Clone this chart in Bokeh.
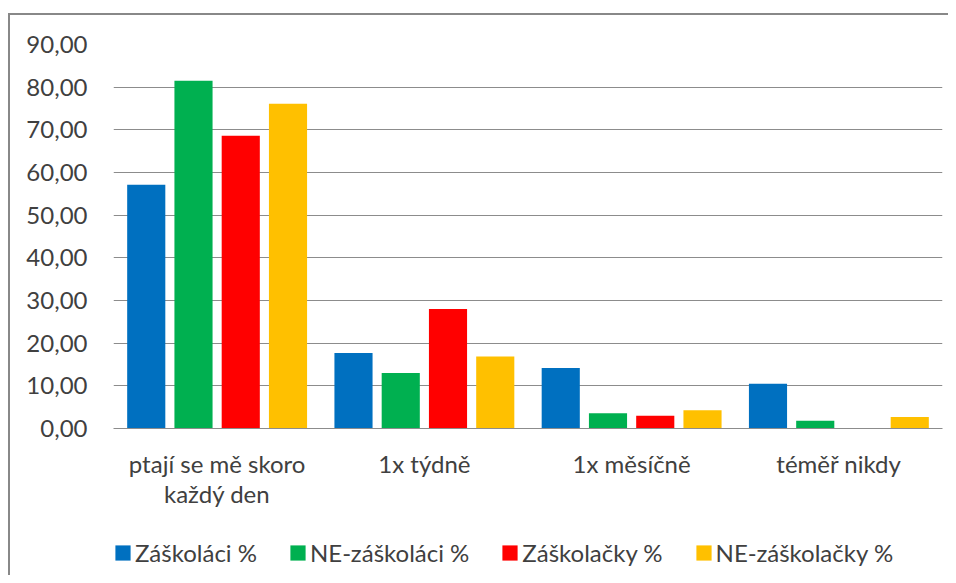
from bokeh.plotting import figure
from bokeh.layouts import column
from bokeh.models import ColumnDataSource, FactorRange, Range1d, FixedTicker, Legend, LegendItem
from bokeh.transform import dodge
from bokeh.embed import file_html
from bokeh.resources import INLINE

categories = ["ptají se mě skoro\nkaždý den", "1x týdně", "1x měsíčně", "téměř nikdy"]
series_names = ["Záškoláci %", "NE-záškoláci %", "Záškolačky %", "NE-záškolačky %"]
zaskolaci = [57.1, 17.7, 14.2, 10.5]
ne_zaskolaci = [81.5, 13.0, 3.6, 1.8]
zaskolacky = [68.6, 28.0, 3.0, 0.0]
ne_zaskolacky = [76.1, 16.9, 4.3, 2.7]
colors = ["#0070C0", "#00B050", "#FF0000", "#FFC000"]
y_ticks = [0, 10, 20, 30, 40, 50, 60, 70, 80, 90]
y_tick_labels = ["0,00", "10,00", "20,00", "30,00", "40,00", "50,00", "60,00", "70,00", "80,00", "90,00"]

FONT = "Lato"
TXT = "#404040"
GRID = "#8c8c8c"
FS = "24px"

source = ColumnDataSource(dict(cat=categories, s0=zaskolaci, s1=ne_zaskolaci, s2=zaskolacky, s3=ne_zaskolacky))

p = figure(x_range=FactorRange(*categories, range_padding=0), y_range=Range1d(0, 90),
           width=938, height=513, output_backend="svg", toolbar_location=None,
           min_border_left=103, min_border_right=6, min_border_top=29, min_border_bottom=100)
p.outline_line_color = None
p.background_fill_color = "white"
p.border_fill_color = "white"

offsets = [-0.342, -0.114, 0.114, 0.342]
for i, (off, col) in enumerate(zip(offsets, colors)):
    p.vbar(x=dodge("cat", off, range=p.x_range), top="s%d" % i, width=0.184, source=source,
           fill_color=col, line_color=None)

p.xgrid.grid_line_color = None
p.ygrid.grid_line_color = GRID
p.ygrid.grid_line_width = 1
p.yaxis.ticker = FixedTicker(ticks=y_ticks)
p.yaxis.major_label_overrides = {t: l for t, l in zip(y_ticks, y_tick_labels)}
p.yaxis.axis_line_color = None
p.yaxis.major_tick_line_color = None
p.yaxis.minor_tick_line_color = None
p.yaxis.major_tick_out = 0
p.yaxis.major_label_standoff = 26
p.yaxis.major_label_text_font = FONT
p.yaxis.major_label_text_font_size = FS
p.yaxis.major_label_text_color = TXT

p.xaxis.axis_line_color = GRID
p.xaxis.axis_line_width = 1
p.xaxis.major_tick_line_color = None
p.xaxis.major_tick_out = 0
p.xaxis.major_label_standoff = 20
p.xaxis.major_label_text_font = FONT
p.xaxis.major_label_text_font_size = FS
p.xaxis.major_label_text_color = TXT
p.xaxis.major_label_text_line_height = 1.05

# legend strip: same data, drawn outside its visible y-range so only the legend shows
lf = figure(width=938, height=47, x_range=p.x_range, y_range=Range1d(500, 501),
            output_backend="svg", toolbar_location=None,
            x_axis_location=None, y_axis_location=None,
            min_border_left=85, min_border_right=0, min_border_top=0, min_border_bottom=0)
lf.grid.visible = False
lf.outline_line_color = None
lf.background_fill_color = "white"
lf.border_fill_color = "white"
items = []
for i, (name, col) in enumerate(zip(series_names, colors)):
    r = lf.vbar(x=dodge("cat", offsets[i], range=lf.x_range), top="s%d" % i, width=0.184,
                source=source, fill_color=col, line_color=None)
    items.append(LegendItem(label=name, renderers=[r]))
legend = Legend(items=items, orientation="horizontal", location=(0, 8),
                glyph_width=19, glyph_height=19, label_standoff=3, spacing=31,
                padding=0, margin=0, border_line_color=None, background_fill_alpha=0,
                label_text_font=FONT, label_text_font_size=FS, label_text_color=TXT)
lf.add_layout(legend, "center")

layout = column(p, lf, spacing=0)
layout.styles = {"border-top": "2px solid #888888", "border-left": "2px solid #888888",
                 "margin-top": "13px", "margin-left": "8px"}

open("out.html", "w").write(file_html(layout, INLINE))
